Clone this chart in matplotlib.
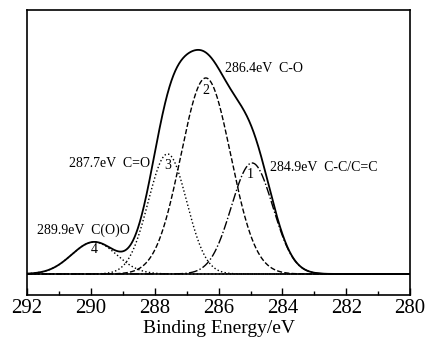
import numpy as np
import matplotlib
matplotlib.use("Agg")
import matplotlib.pyplot as plt
from matplotlib.ticker import MultipleLocator

plt.rcParams['font.family'] = ['Liberation Serif', 'DejaVu Serif']

# fitted C1s components (peak centre / height / width)
peak_ids = ['1', '2', '3', '4']
centers = [284.95, 286.4, 287.6, 289.9]
heights = [111, 196, 120, 32]
sigmas = [0.65, 0.78, 0.60, 0.70]
styles = ['-.', '--', ':', ':']
labels = ['284.9eV  C-C/C=C', '286.4eV  C-O', '287.7eV  C=O', '289.9eV  C(O)O']

energy = np.linspace(292, 280, 1200)

fig = plt.figure(figsize=(4.29, 3.43), dpi=100)
ax = fig.add_axes([0.063, 0.140, 0.893, 0.831])

comps = []
for c, h, s, ls in zip(centers, heights, sigmas, styles):
    y = h * np.exp(-(energy - c) ** 2 / (2 * s ** 2))
    comps.append(y)
    ax.plot(energy, y, color='black', ls=ls, lw=1.0)

envelope = np.sum(comps, axis=0)
ax.plot(energy, envelope, color='black', lw=1.3)
ax.axhline(0, color='black', lw=1.2)

# annotations
ax.text(285.8, 205, labels[1], fontsize=10, ha='left', va='center')
ax.text(286.4, 183, peak_ids[1], fontsize=10, ha='center', va='center')
ax.text(290.7, 110, labels[2], fontsize=10, ha='left', va='center')
ax.text(287.6, 108, peak_ids[2], fontsize=10, ha='center', va='center')
ax.text(284.4, 106, labels[0], fontsize=10, ha='left', va='center')
ax.text(285.0, 99, peak_ids[0], fontsize=10, ha='center', va='center')
ax.text(291.7, 44, labels[3], fontsize=10, ha='left', va='center')
ax.text(289.9, 24, peak_ids[3], fontsize=10, ha='center', va='center')

ax.set_xlim(292, 280)
ax.set_ylim(-21, 264)
ax.xaxis.set_major_locator(MultipleLocator(2))
ax.xaxis.set_minor_locator(MultipleLocator(1))
ax.tick_params(axis='x', which='major', direction='in', length=5, width=1.0,
               labelsize=15, pad=3)
ax.tick_params(axis='x', which='minor', direction='in', length=3, width=1.0)
ax.set_yticks([])
for sp in ax.spines.values():
    sp.set_linewidth(1.2)
ax.set_xlabel('Binding Energy/eV', fontsize=14, labelpad=1)

fig.savefig('out.png', dpi=100)
